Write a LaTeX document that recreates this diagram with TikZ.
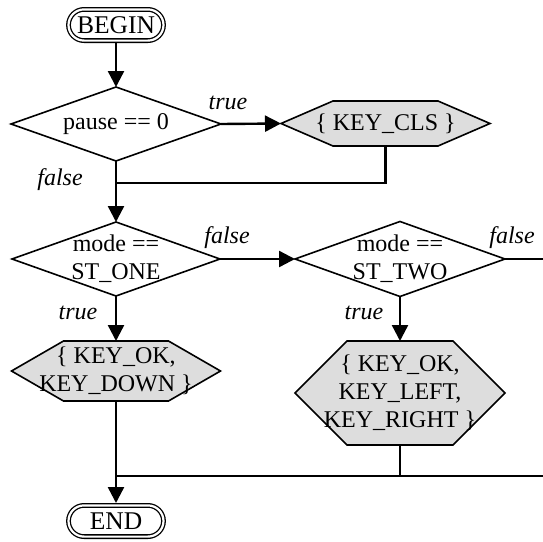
\documentclass[tikz,border=0pt]{standalone}
\usepackage{fontspec}
\setmainfont{Liberation Serif}
\usetikzlibrary{arrows.meta}
\definecolor{actionfill}{RGB}{221,221,221}
\begin{document}
\begin{tikzpicture}[x=1pt,y=-1pt,
  every node/.style={font=\fontsize{24}{28}\selectfont},
  frame/.style={inner sep=0pt, outer sep=0pt},
  caption/.style={align=center, inner sep=0pt},
  shapeline/.style={line width=1.6pt, line join=miter},
  decision/.style={shapeline, draw=black, fill=white},
  action/.style={shapeline, draw=black, fill=actionfill},
  terminal/.style={draw, double, double distance=2.2pt, line width=1.3pt,
    rounded corners=15.6pt, minimum width=95pt, minimum height=31.2pt,
    inner sep=0pt, outer sep=2.4pt, font=\fontsize{25.5}{28}\selectfont},
  flow/.style={line width=2.4pt},
  arrow/.style={flow, -{Triangle[length=16pt,width=16pt]}},
  tag/.style={font=\itshape\fontsize{24}{28}\selectfont, inner sep=0pt}
]
\useasboundingbox (0,0) rectangle (543,541);

% terminals
\node[terminal] (begin) at (116,25) {BEGIN};
\node[terminal] (end) at (116,521) {END};

% decision boxes (diamonds drawn from the frame anchors)
\node[frame, minimum width=210pt, minimum height=74pt] (pause) at (116,124) {};
\draw[decision] (pause.west) -- (pause.north) -- (pause.east) -- (pause.south) -- cycle;
\node[caption] (pause-text) at (pause) {pause == 0};

\node[frame, minimum width=208pt, minimum height=74pt] (one) at (116,259) {};
\draw[decision] (one.west) -- (one.north) -- (one.east) -- (one.south) -- cycle;
\node[caption] (one-text) at (one) {mode ==\\ST\_ONE};

\node[frame, minimum width=210pt, minimum height=75pt] (two) at (400,259) {};
\draw[decision] (two.west) -- (two.north) -- (two.east) -- (two.south) -- cycle;
\node[caption] (two-text) at (two) {mode ==\\ST\_TWO};

% action boxes (hexagons drawn from the frame anchors)
\node[frame, minimum width=209pt, minimum height=45pt] (cls) at (385.5,123.5) {};
\draw[action] (cls.west) -- ([xshift=52pt]cls.north west) -- ([xshift=-52pt]cls.north east)
  -- (cls.east) -- ([xshift=-52pt]cls.south east) -- ([xshift=52pt]cls.south west) -- cycle;
\node[caption] (cls-text) at (cls) {\{ KEY\_CLS \}};

\node[frame, minimum width=209pt, minimum height=60pt] (okdown) at (116,371) {};
\draw[action] (okdown.west) -- ([xshift=52pt]okdown.north west) -- ([xshift=-52pt]okdown.north east)
  -- (okdown.east) -- ([xshift=-52pt]okdown.south east) -- ([xshift=52pt]okdown.south west) -- cycle;
\node[caption] (okdown-text) at (okdown) {\{ KEY\_OK,\\KEY\_DOWN \}};

\node[frame, minimum width=210pt, minimum height=104pt] (okside) at (400,393) {};
\draw[action] (okside.west) -- ([xshift=52pt]okside.north west) -- ([xshift=-52pt]okside.north east)
  -- (okside.east) -- ([xshift=-52pt]okside.south east) -- ([xshift=52pt]okside.south west) -- cycle;
\node[caption] (okside-text) at (okside) {\{ KEY\_OK,\\KEY\_LEFT,\\KEY\_RIGHT \}};

% junction points and free ends
\coordinate (j1) at (116,183);
\coordinate (j2) at (116,476);
\coordinate (exit1) at (543,259);
\coordinate (exit2) at (543,476);

% connectors
\draw[arrow] (begin.south) -- (pause.north);
\draw[arrow] (pause.east) -- (cls.west);
\draw[arrow] (pause.south) -- (one.north);
\draw[flow] (cls.south) |- (j1);
\draw[arrow] (one.east) -- (two.west);
\draw[flow] (two.east) -- (exit1);
\draw[arrow] (one.south) -- (okdown.north);
\draw[arrow] (two.south) -- (okside.north);
\draw[arrow] (okdown.south) -- (end.north);
\draw[flow] (okside.south) -- (okside.south |- j2);
\draw[flow] (j2) -- (exit2);

% branch labels
\node[tag] (t1) at (228,103) {true};
\node[tag] (f1) at (60,180) {false};
\node[tag] (f2) at (227,238) {false};
\node[tag] (f3) at (512,238) {false};
\node[tag] (t2) at (78,313) {true};
\node[tag] (t3) at (364,313) {true};
\end{tikzpicture}
\end{document}
